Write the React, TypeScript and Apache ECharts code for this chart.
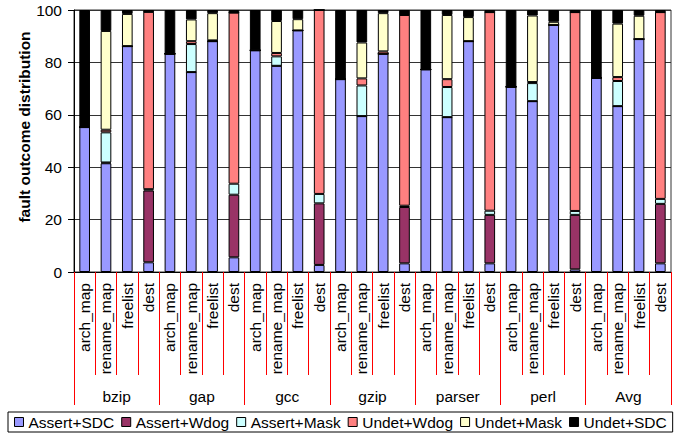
import React, { useEffect, useRef } from "react";
import * as echarts from "echarts";

const groups = ["bzip", "gap", "gcc", "gzip", "parser", "perl", "Avg"];
const structures = ["arch_map", "rename_map", "freelist", "dest"];
const categories: string[] = [];
groups.forEach((g) => structures.forEach((s) => categories.push(g + "|" + s)));

const seriesNames = ["Assert+SDC", "Assert+Wdog", "Assert+Mask", "Undet+Wdog", "Undet+Mask", "Undet+SDC"];
const seriesColors = ["#9999FF", "#993366", "#CCFFFF", "#FF8080", "#FFFFCC", "#000000"];

const assertSDC = [
  55.3, 41.5, 86.2, 3.7,
  83.3, 76.3, 88.1, 5.6,
  84.6, 78.7, 92.2, 2.7,
  73.6, 59.5, 83.3, 3.3,
  77.3, 59.1, 88.1, 3.3,
  70.7, 65.2, 94.3, 1.0,
  74.1, 63.3, 88.9, 3.3,
];
const assertWdog = [
  0, 0.3, 0, 27.4,
  0, 0, 0, 23.9,
  0, 0, 0, 23.5,
  0, 0, 0, 21.5,
  0, 0, 0, 18.5,
  0, 0, 0, 20.8,
  0, 0, 0, 22.7,
];
const assertMask = [
  0, 11.5, 0, 0.5,
  0, 10.7, 0, 4.2,
  0, 3.6, 0, 3.6,
  0, 11.7, 0, 0.5,
  0, 11.5, 0, 1.6,
  0, 6.9, 0, 1.5,
  0, 9.6, 0, 1.9,
];
const undetWdog = [
  0, 1.0, 0, 67.7,
  0, 1.1, 0.3, 65.3,
  0, 1.3, 0, 70.2,
  0, 2.7, 0.9, 72.8,
  0, 3.0, 0, 75.8,
  0, 0.4, 0, 75.9,
  0, 1.5, 0, 71.3,
];
const undetMask = [
  0, 37.7, 12.3, 0,
  0, 8.3, 10.4, 0,
  0, 12.2, 4.3, 0,
  0, 13.7, 14.6, 0,
  0, 24.5, 9.2, 0,
  0, 25.4, 1.2, 0,
  0, 20.4, 8.9, 0,
];
const undetSDC = [
  44.7, 8.0, 1.5, 0.7,
  16.7, 3.6, 1.2, 1.0,
  15.4, 4.2, 3.5, 0,
  26.4, 12.4, 1.2, 1.9,
  22.7, 1.9, 2.7, 0.8,
  29.3, 2.1, 4.5, 0.8,
  25.9, 5.2, 2.2, 0.8,
];
const seriesValues = [assertSDC, assertWdog, assertMask, undetWdog, undetMask, undetSDC];
const yTicks = [0, 20, 40, 60, 80, 100];

const FONT = "'Liberation Sans', Arial, sans-serif";
const FS = 15.5;

export default function App() {
  const ref = useRef<HTMLDivElement>(null);
  useEffect(() => {
    if (!ref.current) return;
    document.body.style.margin = "0";
    const chart = echarts.init(ref.current, null, { renderer: "svg" });
    const option: any = {
      animation: false,
      backgroundColor: "#ffffff",
      textStyle: { fontFamily: FONT },
      grid: {
        left: 74,
        right: 15,
        top: 10,
        bottom: 162,
        show: true,
        borderColor: "#333333",
        borderWidth: 1,
      },
      legend: {
        left: 8,
        top: 412,
        orient: "horizontal",
        padding: [1, 6, 1, 6],
        itemGap: 7,
        itemWidth: 9,
        itemHeight: 9,
        icon: "rect",
        borderColor: "#000000",
        borderWidth: 1,
        textStyle: { fontSize: FS, color: "#000", fontFamily: FONT, lineHeight: 18 },
        itemStyle: { borderColor: "#000", borderWidth: 1 },
        data: seriesNames,
      },
      xAxis: [
        {
          type: "category",
          data: categories,
          position: "bottom",
          boundaryGap: true,
          axisLine: { show: true, lineStyle: { color: "#000", width: 1 } },
          axisTick: {
            show: true,
            interval: 0,
            length: 103,
            lineStyle: { color: "#FF0000", width: 1 },
          },
          axisLabel: {
            interval: 0,
            rotate: 90,
            margin: 11,
            fontSize: FS,
            color: "#000",
            fontFamily: FONT,
            formatter: (v: string) => v.split("|")[1],
          },
          splitLine: { show: false },
        },
        {
          type: "category",
          data: groups,
          position: "bottom",
          boundaryGap: true,
          axisLine: { show: false },
          axisTick: {
            show: true,
            interval: 0,
            length: 133,
            lineStyle: { color: "#FF0000", width: 1 },
          },
          axisLabel: {
            interval: 0,
            margin: 116,
            fontSize: FS,
            color: "#000",
            fontFamily: FONT,
          },
          splitLine: { show: false },
        },
      ],
      yAxis: {
        type: "value",
        min: yTicks[0],
        max: yTicks[yTicks.length - 1],
        interval: 20,
        axisLine: { show: true, lineStyle: { color: "#000", width: 1 } },
        axisTick: { show: true, length: 6, lineStyle: { color: "#000" } },
        axisLabel: { margin: 12, fontSize: FS, color: "#000", fontFamily: FONT },
        splitLine: { show: true, lineStyle: { color: "#333333", width: 1 } },
      },
      graphic: [
        {
          type: "text",
          x: 24,
          y: 127,
          rotation: Math.PI / 2,
          style: {
            text: "fault outcome distribution",
            fontSize: FS,
            fontWeight: "bold",
            fontFamily: FONT,
            fill: "#000",
            align: "center",
            verticalAlign: "middle",
          },
        },
      ],
      series: seriesNames.map((name, i) => ({
        name,
        type: "bar",
        stack: "total",
        xAxisIndex: 0,
        barCategoryGap: "50%",
        data: seriesValues[i],
        itemStyle: { color: seriesColors[i], borderColor: "#000", borderWidth: 1 },
      })),
    };
    chart.setOption(option);
    return () => chart.dispose();
  }, []);
  return (
    <div
      ref={ref}
      style={{ width: 686, height: 434, position: "absolute", left: 0, top: 0 }}
    />
  );
}
